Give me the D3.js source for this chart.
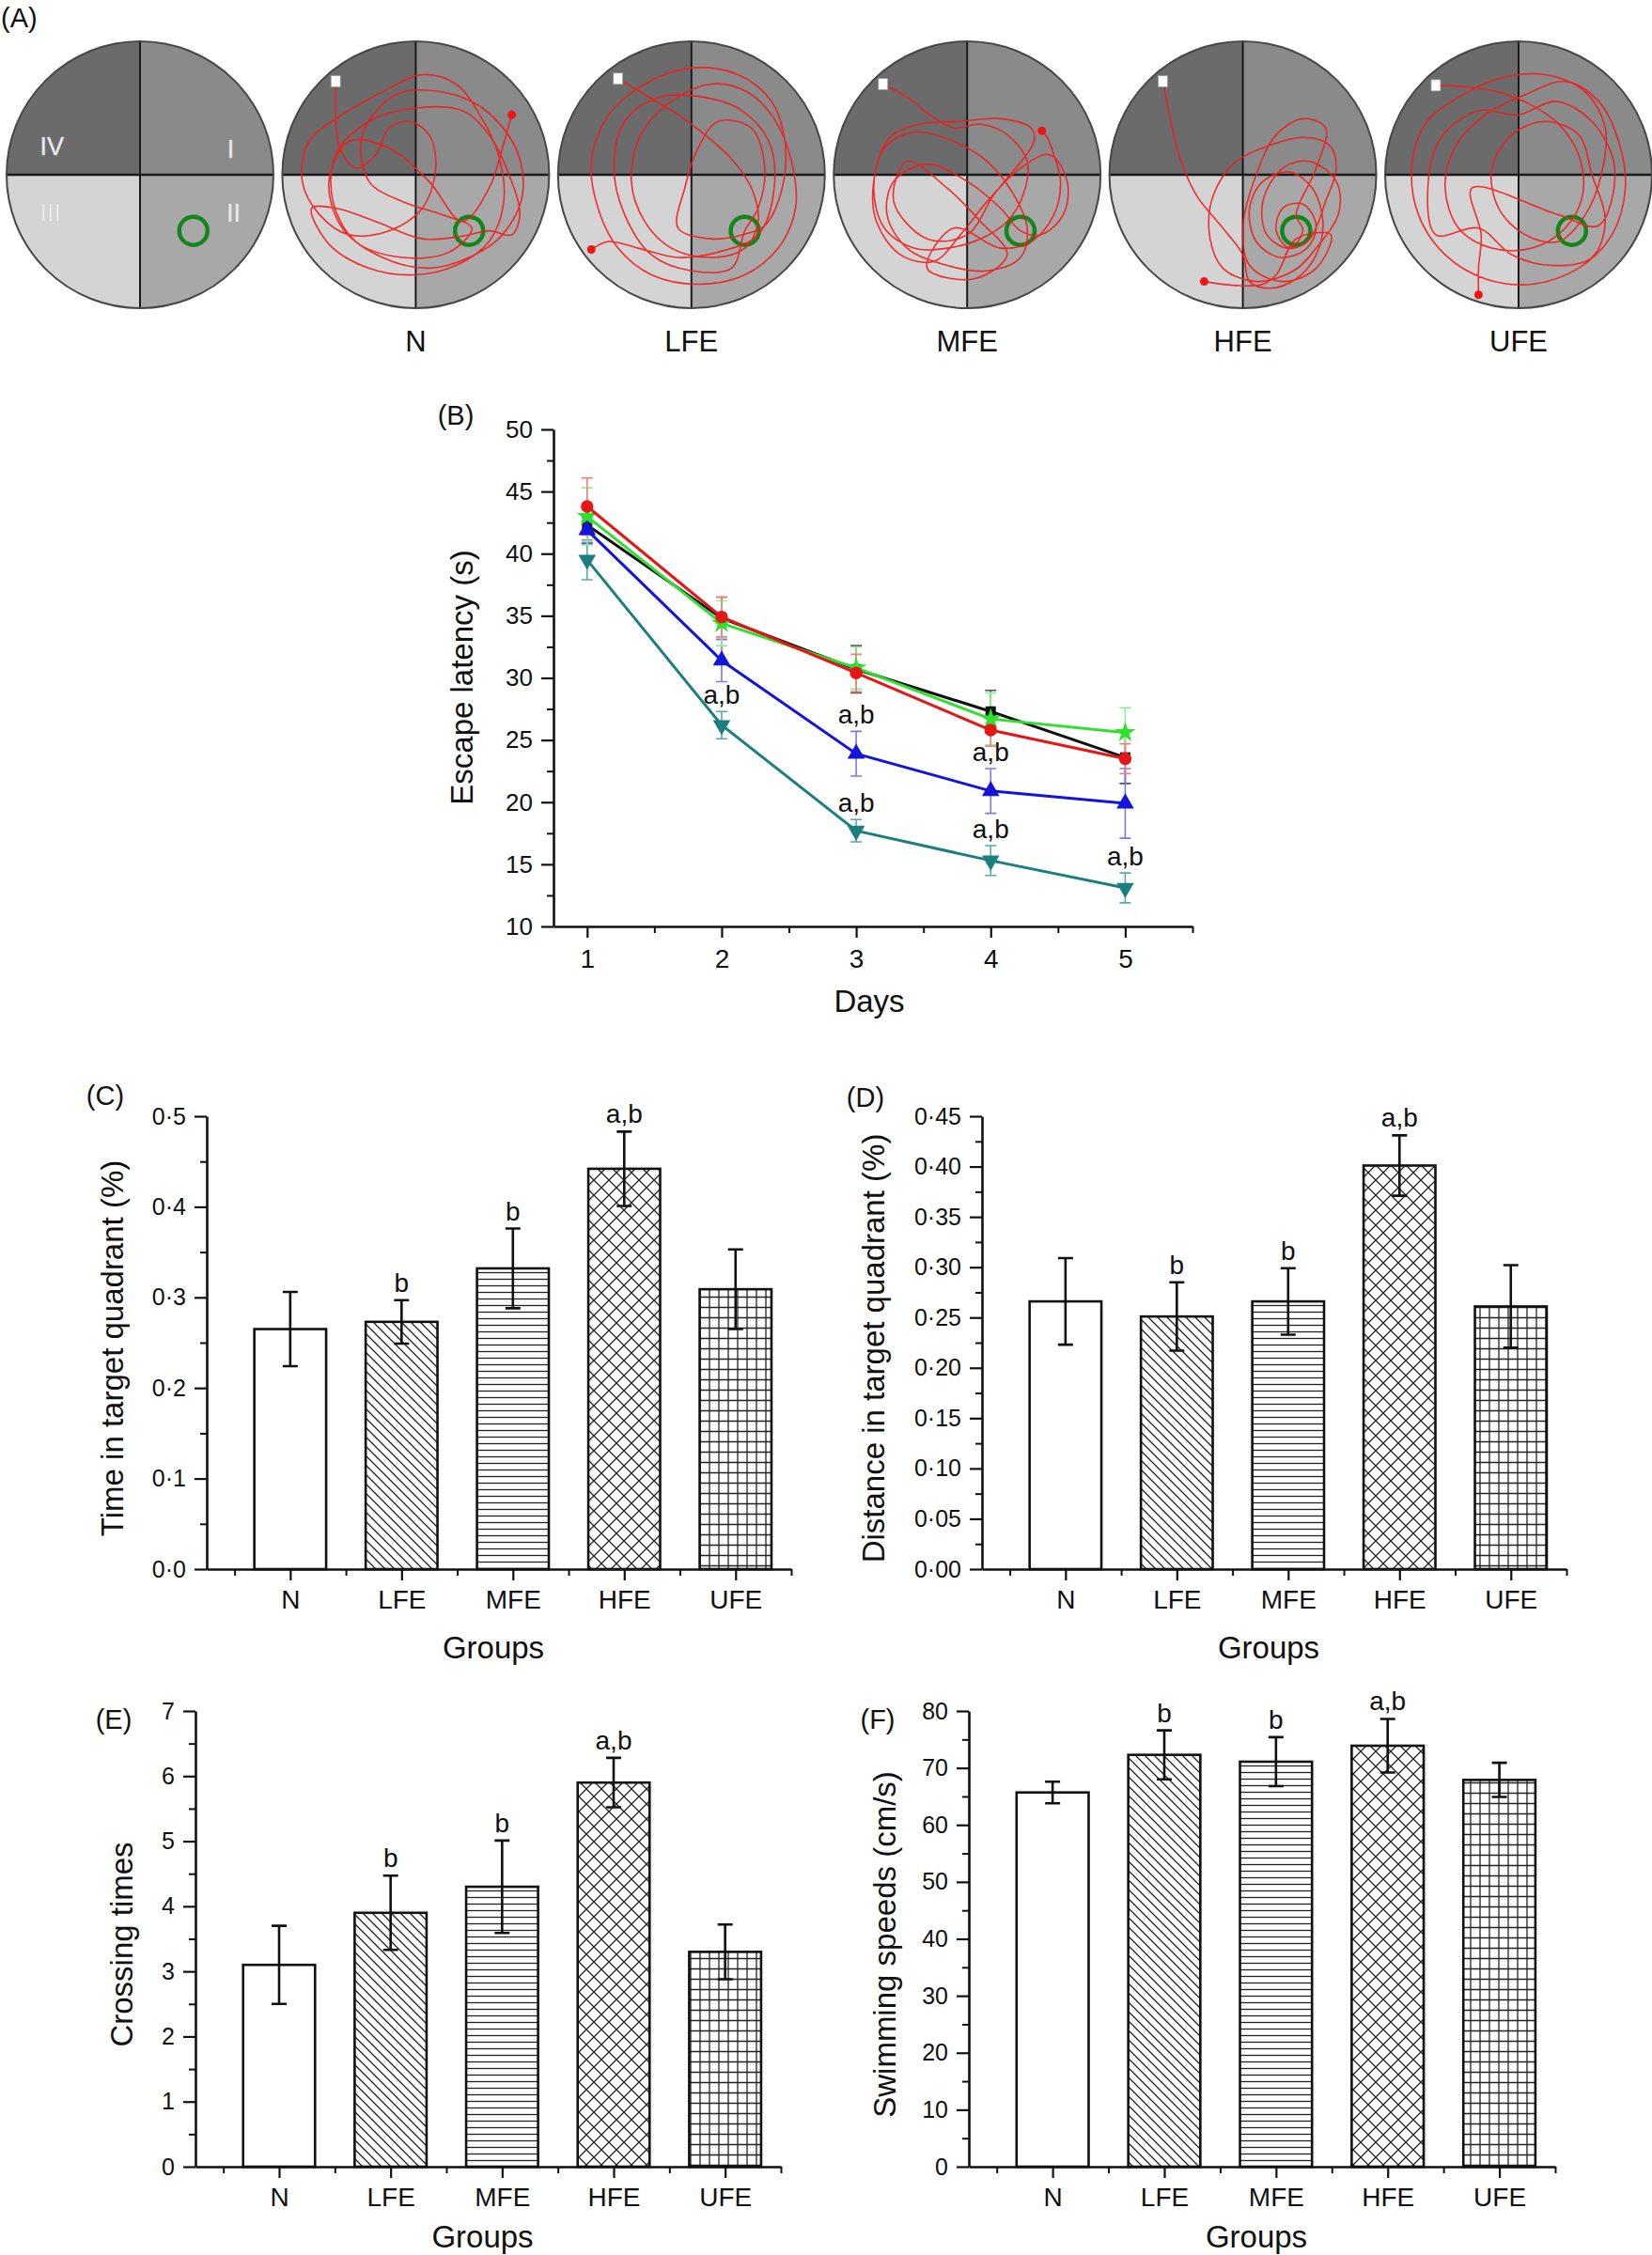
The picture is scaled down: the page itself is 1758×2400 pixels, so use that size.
<!DOCTYPE html>
<html>
<head>
<meta charset="utf-8">
<script src="https://cdn.jsdelivr.net/npm/d3@7"></script>
<style>
  body { margin: 0; background: #fff; }
  text { font-family: "Liberation Sans", Arial, sans-serif; }
</style>
</head>
<body>
<svg id="fig" width="1758" height="2400"></svg>
<script>
// ---------- data ----------
const groups = ["N", "LFE", "MFE", "HFE", "UFE"]
const days = [1, 2, 3, 4, 5]

// (B) escape latency, one array per line colour
const latBlack = [42.3, 34.8, 30.7, 27.3, 23.6]
const latBlackErr = [1.5, 1.7, 1.9, 1.7, 2.1]
const latRed = [43.8, 34.9, 30.4, 25.8, 23.5]
const latRedErr = [2.3, 1.6, 1.5, 1.3, 1.2]
const latGreen = [43.0, 34.4, 30.8, 26.7, 25.6]
const latGreenErr = [2.3, 1.8, 1.7, 2.1, 2.0]
const latBlue = [41.9, 31.4, 23.9, 20.9, 19.9]
const latBlueErr = [1.0, 1.7, 1.8, 1.8, 2.8]
const latTeal = [39.5, 26.2, 17.7, 15.3, 13.1]
const latTealErr = [1.6, 1.1, 0.9, 1.2, 1.2]
const latSigSeries = ["teal", "blue", "teal", "blue", "teal", "teal"]
const latSigDays = [2, 3, 3, 4, 4, 5]
const latTicks = [10, 15, 20, 25, 30, 35, 40, 45, 50]
const latMinor = [12.5, 17.5, 22.5, 27.5, 32.5, 37.5, 42.5, 47.5]
const dayMinor = [1.5, 2.5, 3.5, 4.5, 5.5]

// (C) - (F) bars
const timeQuad = [0.265, 0.273, 0.332, 0.442, 0.309]
const timeQuadErr = [0.041, 0.024, 0.044, 0.041, 0.044]
const distQuad = [0.266, 0.251, 0.266, 0.401, 0.261]
const distQuadErr = [0.043, 0.034, 0.033, 0.030, 0.041]
const crossing = [3.1, 3.9, 4.3, 5.9, 3.3]
const crossingErr = [0.60, 0.57, 0.71, 0.38, 0.42]
const speed = [65.7, 72.3, 71.1, 73.9, 67.9]
const speedErr = [1.9, 4.3, 4.3, 4.7, 3.0]
const sigLetters = ["", "b", "b", "a,b", ""]

const timeTicks = [0, 0.1, 0.2, 0.3, 0.4, 0.5]
const distTicks = [0, 0.05, 0.10, 0.15, 0.20, 0.25, 0.30, 0.35, 0.40, 0.45]
const crossTicks = [0, 1, 2, 3, 4, 5, 6, 7]
const speedTicks = [0, 10, 20, 30, 40, 50, 60, 70, 80]
const groupMinor = [0.5, 1.5, 2.5, 3.5, 4.5, 5.5]

// (A) swim paths, pool-relative coordinates (-1..1)
const trackN = [[-0.60,-0.70],[-0.60,-0.45],[-0.57,-0.20],[-0.45,-0.05],[-0.30,-0.15],[-0.20,-0.35],[-0.05,-0.40],[0.10,-0.30],[0.15,-0.05],[0.05,0.25],[-0.20,0.42],[-0.50,0.45],[-0.72,0.30],[-0.85,0.05],[-0.80,-0.25],[-0.55,-0.45],[-0.25,-0.62],[0.05,-0.75],[0.30,-0.68],[0.48,-0.45],[0.62,-0.15],[0.66,0.20],[0.55,0.50],[0.30,0.68],[0.00,0.75],[-0.35,0.70],[-0.65,0.52],[-0.78,0.25],[-0.60,0.25],[-0.30,0.35],[0.05,0.48],[0.35,0.46],[0.55,0.42],[0.72,0.45],[0.78,0.30],[0.70,0.00],[0.55,-0.30],[0.35,-0.48],[0.00,-0.50],[-0.35,-0.40],[-0.60,-0.15],[-0.62,0.20],[-0.45,0.50],[-0.10,0.62],[0.25,0.58],[0.42,0.40],[0.20,0.30],[-0.10,0.20],[-0.35,0.05],[-0.40,-0.30],[-0.15,-0.60],[0.20,-0.62],[0.50,-0.50],[0.75,-0.20],[0.80,0.15],[0.65,0.45],[0.40,0.62],[0.10,0.70],[-0.25,0.62],[-0.55,0.40],[-0.65,0.05],[-0.50,-0.25],[-0.20,-0.20],[0.10,0.05],[0.35,0.35],[0.55,0.10],[0.65,-0.20],[0.70,-0.38],[0.72,-0.45]]
const trackLFE = [[-0.55,-0.72],[-0.35,-0.60],[-0.10,-0.45],[0.10,-0.30],[0.30,-0.12],[0.45,0.10],[0.50,0.35],[0.40,0.55],[0.15,0.62],[-0.15,0.55],[-0.35,0.35],[-0.45,0.05],[-0.38,-0.30],[-0.15,-0.55],[0.15,-0.68],[0.42,-0.62],[0.62,-0.42],[0.75,-0.10],[0.78,0.25],[0.65,0.55],[0.40,0.75],[0.05,0.82],[-0.30,0.75],[-0.55,0.55],[-0.70,0.25],[-0.75,-0.10],[-0.62,-0.45],[-0.35,-0.68],[0.00,-0.80],[0.35,-0.75],[0.60,-0.55],[0.70,-0.25],[0.68,0.10],[0.55,0.38],[0.38,0.45],[0.15,0.48],[-0.10,0.40],[-0.05,0.10],[0.05,-0.20],[0.20,-0.40],[0.45,-0.35],[0.55,-0.05],[0.50,0.25],[0.40,0.42],[0.30,0.70],[0.00,0.72],[-0.30,0.60],[-0.50,0.30],[-0.58,-0.05],[-0.50,-0.40],[-0.25,-0.58],[0.10,-0.58],[0.38,-0.48],[0.58,-0.25],[0.62,0.10],[0.50,0.45],[0.20,0.58],[-0.10,0.62],[-0.40,0.55],[-0.62,0.50],[-0.75,0.56]]
const trackMFE = [[-0.63,-0.68],[-0.45,-0.58],[-0.28,-0.45],[-0.10,-0.35],[0.10,-0.38],[0.30,-0.30],[0.45,-0.10],[0.42,0.15],[0.30,0.35],[0.10,0.48],[-0.15,0.55],[-0.40,0.55],[-0.62,0.40],[-0.70,0.10],[-0.62,-0.20],[-0.40,-0.32],[-0.10,-0.25],[0.15,-0.10],[0.35,0.15],[0.45,0.40],[0.40,0.62],[0.15,0.72],[-0.15,0.68],[-0.45,0.55],[-0.60,0.30],[-0.55,0.05],[-0.30,-0.08],[0.00,0.05],[0.25,0.25],[0.40,0.42],[0.55,0.45],[0.72,0.30],[0.75,0.05],[0.62,-0.15],[0.40,-0.05],[0.15,0.20],[-0.05,0.45],[-0.25,0.65],[-0.50,0.60],[-0.68,0.35],[-0.70,0.05],[-0.58,-0.28],[-0.35,-0.38],[-0.05,-0.40],[0.25,-0.42],[0.48,-0.35],[0.50,-0.25],[0.20,0.15],[0.00,0.45],[-0.30,0.48],[-0.55,0.20],[-0.45,-0.10],[-0.15,0.10],[0.10,0.35],[0.30,0.60],[0.05,0.78],[-0.30,0.70],[-0.10,0.40],[0.25,0.55],[0.48,0.50],[0.65,0.30],[0.70,0.05],[0.65,-0.15],[0.60,-0.28],[0.56,-0.33]]
const trackHFE = [[-0.60,-0.70],[-0.55,-0.45],[-0.48,-0.15],[-0.35,0.15],[-0.15,0.40],[0.00,0.60],[0.05,0.80],[0.20,0.85],[0.40,0.78],[0.55,0.60],[0.60,0.35],[0.52,0.10],[0.35,-0.02],[0.15,0.05],[0.05,0.25],[0.10,0.50],[0.28,0.62],[0.48,0.55],[0.55,0.38],[0.45,0.22],[0.30,0.25],[0.25,0.42],[0.35,0.55],[0.50,0.48],[0.62,0.20],[0.70,-0.05],[0.65,-0.22],[0.45,-0.28],[0.20,-0.22],[-0.05,-0.10],[-0.22,0.15],[-0.25,0.45],[-0.15,0.70],[0.10,0.80],[0.38,0.72],[0.55,0.55],[0.72,0.28],[0.70,0.05],[0.50,-0.10],[0.30,-0.05],[0.15,0.20],[0.18,0.45],[0.35,0.55],[0.45,0.42],[0.40,0.30],[0.55,-0.05],[0.62,-0.35],[0.45,-0.42],[0.25,-0.30],[0.10,0.00],[0.00,0.40],[0.05,0.68],[0.30,0.80],[0.55,0.70],[0.66,0.45],[0.40,0.48],[0.25,0.75],[0.15,0.82],[-0.05,0.83],[-0.29,0.80]]
const trackUFE = [[-0.62,-0.67],[-0.40,-0.66],[-0.15,-0.62],[0.10,-0.52],[0.30,-0.38],[0.45,-0.15],[0.48,0.15],[0.35,0.40],[0.10,0.55],[-0.20,0.55],[-0.45,0.40],[-0.55,0.10],[-0.48,-0.20],[-0.25,-0.45],[0.05,-0.60],[0.35,-0.70],[0.60,-0.55],[0.75,-0.25],[0.80,0.10],[0.70,0.45],[0.45,0.70],[0.10,0.82],[-0.25,0.78],[-0.55,0.60],[-0.75,0.30],[-0.80,-0.05],[-0.70,-0.38],[-0.45,-0.58],[-0.15,-0.72],[0.20,-0.75],[0.50,-0.62],[0.65,-0.35],[0.62,0.00],[0.50,0.30],[0.30,0.50],[0.05,0.45],[-0.15,0.25],[-0.20,-0.05],[-0.05,-0.30],[0.20,-0.40],[0.45,-0.30],[0.55,0.00],[0.65,0.35],[0.55,0.62],[0.25,0.68],[-0.05,0.60],[-0.30,0.40],[-0.62,0.45],[-0.68,0.10],[-0.58,-0.28],[-0.30,-0.48],[0.00,-0.45],[0.28,-0.55],[0.55,-0.40],[0.72,-0.05],[0.60,0.38],[0.30,0.30],[-0.35,0.10],[-0.28,0.45],[-0.30,0.70],[-0.30,0.90]]
const platform = [0.40, 0.42]
const quadrantNames = ["IV", "I", "III", "II"]

// ---------- setup ----------
const svg = d3.select("#fig")
const defs = svg.append("defs")
const FONT = '"Liberation Sans", Arial, sans-serif'
const YTICK_FS = 25
const XTICK_FS = 28
const TITLE_FS = 33

const addPattern = (id, w, h, d) => {
  const p = defs.append("pattern")
    .attr("id", id)
    .attr("patternUnits", "userSpaceOnUse")
    .attr("width", w)
    .attr("height", h)
  p.append("rect").attr("width", w).attr("height", h).attr("fill", "#fff")
  p.append("path").attr("d", d)
    .attr("stroke", "#222").attr("stroke-width", 1.3).attr("fill", "none")
}
addPattern("diag", 10, 10, "M-1,-1L11,11M-1,9L1,11M9,-1L11,1")
addPattern("horiz", 10, 7, "M0,3.5L10,3.5")
addPattern("cross", 16, 16, "M0,0L16,16M16,0L0,16")
addPattern("grid", 10, 11, "M0,5.5L10,5.5M5,0L5,11")
const barFills = ["#fff", "url(#diag)", "url(#horiz)", "url(#cross)", "url(#grid)"]

const label = (txt, x, y, size, anchor) =>
  svg.append("text").attr("x", x).attr("y", y)
    .attr("font-size", size).attr("text-anchor", anchor || "middle")
    .attr("fill", "#111").text(txt)

const yTitle = (txt, cx, cy) =>
  svg.append("text")
    .attr("transform", `translate(${cx},${cy}) rotate(-90)`)
    .attr("text-anchor", "middle").attr("dy", "0.36em")
    .attr("font-size", TITLE_FS).attr("fill", "#111").text(txt)

const styleAxis = (g, fs) => {
  g.attr("font-family", FONT).attr("font-size", fs)
  g.select(".domain").attr("stroke", "#111").attr("stroke-width", 2.6)
  g.selectAll(".tick line").attr("stroke", "#111").attr("stroke-width", 2.2)
  g.selectAll(".tick text").attr("fill", "#111")
}

const minorAxis = (g, axis) => {
  g.call(axis.tickFormat("").tickSizeOuter(0))
  g.select(".domain").remove()
  g.selectAll(".tick line").attr("stroke", "#111").attr("stroke-width", 2)
}

// ---------- (A) pools ----------
label("(A)", 1, 29, 29, "start")

const poolX = d3.scalePoint().domain(["map", ...groups]).range([149, 1616])
const poolY = 186
const poolR = 142
const tracks = [trackN, trackLFE, trackMFE, trackHFE, trackUFE]
const quadFill = ["#8a8a8a", "#a8a8a8", "#d4d4d4", "#6b6b6b"]
const arc = d3.arc().innerRadius(0).outerRadius(poolR)

poolX.domain().forEach((name, k) => {
  const cx = poolX(name)
  const g = svg.append("g").attr("transform", `translate(${cx},${poolY})`)
  const px = d3.scaleLinear().domain([-1, 1]).range([-poolR, poolR])
  const py = d3.scaleLinear().domain([-1, 1]).range([-poolR, poolR])

  defs.append("clipPath").attr("id", "pool" + k)
    .append("circle").attr("r", poolR - 1)

  quadFill.forEach((c, q) => {
    g.append("path")
      .attr("d", arc({startAngle: q * Math.PI / 2, endAngle: (q + 1) * Math.PI / 2}))
      .attr("fill", c)
  })
  g.append("line").attr("x1", 0).attr("x2", 0).attr("y1", -poolR).attr("y2", poolR)
    .attr("stroke", "#1a1a1a").attr("stroke-width", 2)
  g.append("line").attr("y1", 0).attr("y2", 0).attr("x1", -poolR).attr("x2", poolR)
    .attr("stroke", "#1a1a1a").attr("stroke-width", 2.4)
  g.append("circle").attr("r", poolR).attr("fill", "none")
    .attr("stroke", "#474747").attr("stroke-width", 2)

  g.append("circle")
    .attr("cx", px(platform[0])).attr("cy", py(platform[1]))
    .attr("r", 15).attr("fill", "none")
    .attr("stroke", "#12861a").attr("stroke-width", 4.5)

  if (k === 0) {
    // quadrant numerals
    const pos = [[-0.66, -0.15], [0.68, -0.13], [-0.67, 0.35], [0.70, 0.35]]
    quadrantNames.forEach((n, q) => {
      g.append("text")
        .attr("x", px(pos[q][0])).attr("y", py(pos[q][1]))
        .attr("text-anchor", "middle")
        .attr("font-family", '"Liberation Serif", "DejaVu Serif", serif')
        .attr("font-size", 27).attr("fill", "#f4f4f4")
        .attr("stroke", "#c8c8c8").attr("stroke-width", 0.6)
        .text(n)
    })
    return
  }

  const tr = tracks[k - 1]
  const path = d3.line()
    .x(d => px(d[0])).y(d => py(d[1]))
    .curve(d3.curveCatmullRom.alpha(0.5))
  g.append("path")
    .attr("clip-path", `url(#pool${k})`)
    .attr("d", path(tr))
    .attr("fill", "none").attr("stroke", "#f21c1c")
    .attr("stroke-width", 1.6).attr("stroke-opacity", 0.9)
  const s = tr[0], e = tr[tr.length - 1]
  g.append("rect")
    .attr("x", px(s[0]) - 5).attr("y", py(s[1]) - 6)
    .attr("width", 10).attr("height", 12)
    .attr("fill", "#fff").attr("stroke", "#999").attr("stroke-width", 0.8)
  g.append("circle")
    .attr("cx", px(e[0])).attr("cy", py(e[1])).attr("r", 4.5)
    .attr("fill", "#ee1515")

  label(name, cx, 374, 31)
})

// ---------- (B) escape latency ----------
const bx = d3.scaleLinear().domain([0.75, 5.5]).range([589, 1269])
const by = d3.scaleLinear().domain([10, 50]).range([986, 457])

const latSeries = [
  {key: "black", v: latBlack, e: latBlackErr, col: "#111111", ecol: "#555555", sym: d3.symbolSquare, size: 120, rot: 0},
  {key: "blue", v: latBlue, e: latBlueErr, col: "#1414dc", ecol: "#7a7aee", sym: d3.symbolTriangle, size: 150, rot: 0},
  {key: "teal", v: latTeal, e: latTealErr, col: "#1c7f7f", ecol: "#5aa8a8", sym: d3.symbolTriangle, size: 150, rot: 180},
  {key: "green", v: latGreen, e: latGreenErr, col: "#2fe02f", ecol: "#8ef08e", sym: d3.symbolStar, size: 150, rot: 0},
  {key: "red", v: latRed, e: latRedErr, col: "#e51616", ecol: "#f08080", sym: d3.symbolCircle, size: 140, rot: 0}
]

const gB = svg.append("g")
// error bars first
latSeries.forEach(s => {
  days.forEach((d, i) => {
    const x = bx(d), y1 = by(s.v[i] - s.e[i]), y2 = by(s.v[i] + s.e[i])
    gB.append("path")
      .attr("d", `M${x},${y1}V${y2}M${x - 6},${y1}H${x + 6}M${x - 6},${y2}H${x + 6}`)
      .attr("stroke", s.ecol).attr("stroke-width", 1.6).attr("fill", "none")
  })
})
const latLine = d3.line().x((d, i) => bx(days[i])).y(d => by(d))
latSeries.forEach(s => {
  gB.append("path").datum(s.v)
    .attr("d", latLine)
    .attr("fill", "none").attr("stroke", s.col).attr("stroke-width", 3)
  gB.selectAll(null).data(s.v).join("path")
    .attr("transform", (d, i) => `translate(${bx(days[i])},${by(d)}) rotate(${s.rot})`)
    .attr("d", d3.symbol(s.sym, s.size))
    .attr("fill", s.col)
})
latSigDays.forEach((d, j) => {
  const s = latSeries.find(t => t.key === latSigSeries[j])
  const i = days.indexOf(d)
  gB.append("text")
    .attr("x", bx(d)).attr("y", by(s.v[i] + s.e[i]) - 8)
    .attr("text-anchor", "middle").attr("font-size", XTICK_FS)
    .attr("fill", "#111").text("a,b")
})

const bxAxis = svg.append("g").attr("transform", `translate(0,${by.range()[0]})`)
  .call(d3.axisBottom(bx).tickValues(days).tickFormat(d3.format("d"))
    .tickSize(12).tickPadding(12).tickSizeOuter(0))
styleAxis(bxAxis, XTICK_FS)
minorAxis(svg.append("g").attr("transform", `translate(0,${by.range()[0]})`),
  d3.axisBottom(bx).tickValues(dayMinor).tickSize(7))
const byAxis = svg.append("g").attr("transform", `translate(${bx.range()[0]},0)`)
  .call(d3.axisLeft(by).tickValues(latTicks).tickSize(13).tickPadding(9).tickSizeOuter(0))
styleAxis(byAxis, YTICK_FS + 1)
minorAxis(svg.append("g").attr("transform", `translate(${bx.range()[0]},0)`),
  d3.axisLeft(by).tickValues(latMinor).tickSize(7))

label("(B)", 485, 452, 29)
yTitle("Escape latency (s)", 491, 721)
label("Days", 925, 1077, TITLE_FS)

// ---------- (C)-(F) bar panels ----------
const dotFmt = f => d => d3.format(f)(d).replace(".", "\u00b7")

const barPanel = p => {
  const x = d3.scaleLinear().domain([0.25, 5.5]).range([p.x0, p.x1])
  const y = d3.scaleLinear().domain([0, p.ticks[p.ticks.length - 1]]).range([p.yb, p.yt])
  const bw = 0.645 * (x(2) - x(1))
  const g = svg.append("g")

  g.selectAll("rect").data(p.values).join("rect")
    .attr("x", (d, i) => x(i + 1) - bw / 2)
    .attr("y", d => y(d))
    .attr("width", bw)
    .attr("height", d => y(0) - y(d))
    .attr("fill", (d, i) => barFills[i])
    .attr("stroke", "#111").attr("stroke-width", 2.6)

  g.selectAll("path.err").data(p.values).join("path")
    .attr("class", "err")
    .attr("d", (d, i) => {
      const cx = x(i + 1), lo = y(d - p.errs[i]), hi = y(d + p.errs[i])
      return `M${cx},${lo}V${hi}M${cx - 8},${lo}H${cx + 8}M${cx - 8},${hi}H${cx + 8}`
    })
    .attr("stroke", "#111").attr("stroke-width", 2.6).attr("fill", "none")

  g.selectAll("text.sig").data(p.values).join("text")
    .attr("class", "sig")
    .attr("x", (d, i) => x(i + 1))
    .attr("y", (d, i) => y(d + p.errs[i]) - 9)
    .attr("text-anchor", "middle").attr("font-size", XTICK_FS).attr("fill", "#111")
    .text((d, i) => sigLetters[i])

  const xa = svg.append("g").attr("transform", `translate(0,${p.yb})`)
    .call(d3.axisBottom(x).tickValues([1, 2, 3, 4, 5]).tickSize(12).tickPadding(10)
      .tickSizeOuter(0).tickFormat(d => groups[d - 1]))
  styleAxis(xa, XTICK_FS)
  minorAxis(svg.append("g").attr("transform", `translate(0,${p.yb})`),
    d3.axisBottom(x).tickValues(groupMinor).tickSize(7))

  const ya = svg.append("g").attr("transform", `translate(${p.x0},0)`)
    .call(d3.axisLeft(y).tickValues(p.ticks).tickSize(13).tickPadding(9)
      .tickSizeOuter(0).tickFormat(p.fmt))
  styleAxis(ya, YTICK_FS)
  const step = p.ticks[1] - p.ticks[0]
  minorAxis(svg.append("g").attr("transform", `translate(${p.x0},0)`),
    d3.axisLeft(y).tickValues(p.ticks.slice(0, -1).map(t => t + step / 2)).tickSize(7))

  label(p.label, p.lx, p.ly, 29)
  yTitle(p.title, p.tx, (p.yb + p.yt) / 2 + 6)
  label("Groups", (p.x0 + p.x1) / 2 - 6, p.gy, TITLE_FS)
}

barPanel({label: "(C)", lx: 112, ly: 1176, x0: 220, x1: 842, yb: 1670, yt: 1188,
  ticks: timeTicks, fmt: dotFmt(".1f"), values: timeQuad, errs: timeQuadErr,
  title: "Time in target quadrant (%)", tx: 119, gy: 1765})
barPanel({label: "(D)", lx: 921, ly: 1178, x0: 1045, x1: 1667, yb: 1670, yt: 1188,
  ticks: distTicks, fmt: dotFmt(".2f"), values: distQuad, errs: distQuadErr,
  title: "Distance in target quadrant (%)", tx: 929, gy: 1765})
barPanel({label: "(E)", lx: 121, ly: 1840, x0: 208, x1: 831, yb: 2306, yt: 1821,
  ticks: crossTicks, fmt: d3.format("d"), values: crossing, errs: crossingErr,
  title: "Crossing times", tx: 129, gy: 2392})
barPanel({label: "(F)", lx: 934, ly: 1840, x0: 1031, x1: 1655, yb: 2306, yt: 1821,
  ticks: speedTicks, fmt: d3.format("d"), values: speed, errs: speedErr,
  title: "Swimming speeds (cm/s)", tx: 941, gy: 2392})
</script>
</body>
</html>
